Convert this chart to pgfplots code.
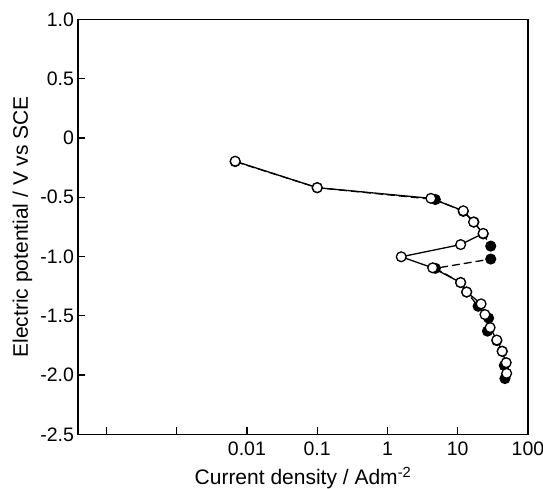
\documentclass[border=0pt]{standalone}
\usepackage{pgfplots}
\pgfplotsset{compat=1.18}
\usepackage{fontspec}
\setmainfont{Liberation Sans}
\begin{document}
\begin{tikzpicture}
\begin{axis}[
  scale only axis, width=450pt, height=415pt,
  xmode=log, xmin=3.94e-5, xmax=100,
  ymin=-2.5, ymax=1.0,
  xtick={1e-4,1e-3,1e-2,1e-1,1,10,100},
  xticklabels={,,0.01,0.1,1,10,100},
  ytick={-2.5,-2,-1.5,-1,-0.5,0,0.5,1},
  yticklabels={-2.5,-2.0,-1.5,-1.0,-0.5,0,0.5,1.0},
  xminorticks=false, yminorticks=false,
  tick align=inside, major tick length=7.5pt,
  xtick pos=bottom, ytick pos=left,
  axis line style={line width=1.3pt}, tick style={line width=1.3pt,black},
  ticklabel style={font=\fontsize{19.5}{22}\selectfont},
  xticklabel style={anchor=base, yshift=-21pt},
  yticklabel style={xshift=-0.5pt},
  xlabel={Current density / Adm\textsuperscript{-2}},
  ylabel={Electric potential / V vs SCE},
  every axis x label/.style={at={(axis description cs:0.5,-0.122)}, anchor=base, font=\fontsize{21}{24}\selectfont},
  every axis y label/.style={at={(axis description cs:-0.1233,0.5)}, anchor=center, rotate=90, font=\fontsize{21}{24}\selectfont},
  /pgf/number format/assume math mode=true,
]
% filled points, dashed
\addplot[black, line width=1.3pt, dash pattern=on 8pt off 4pt, mark=*, mark size=4.9pt, mark options={solid,fill=black}] coordinates {
(0.0068,-0.2) (0.1,-0.42) (4.8,-0.52) (12,-0.62) (17,-0.71) (23,-0.81) (29.5,-0.913) (29.5,-1.022) (4.8,-1.10) (11,-1.22) (13.4,-1.30) (19.5,-1.42) (27.5,-1.52) (26.5,-1.63) (36,-1.71) (43,-1.80) (46,-1.92) (47,-2.03)
};
% open points, solid
\addplot[black, line width=1.3pt, mark=*, mark size=4.9pt, mark options={fill=white,line width=1.3pt}] coordinates {
(0.0068,-0.197) (0.1,-0.42) (4.15,-0.51) (12,-0.615) (16.8,-0.71) (23,-0.806) (11,-0.90) (1.57,-1.003) (4.4,-1.096) (11,-1.22) (13.4,-1.30) (21.5,-1.40) (24.4,-1.49) (28.9,-1.60) (36,-1.705) (42.9,-1.80) (49,-1.896) (49.7,-1.986)
};
\end{axis}
\pgfresetboundingbox
\path ([shift={(-78pt,-54.7pt)}]current axis.south west) rectangle ([shift={(15pt,19.3pt)}]current axis.north east);
\end{tikzpicture}
\end{document}
